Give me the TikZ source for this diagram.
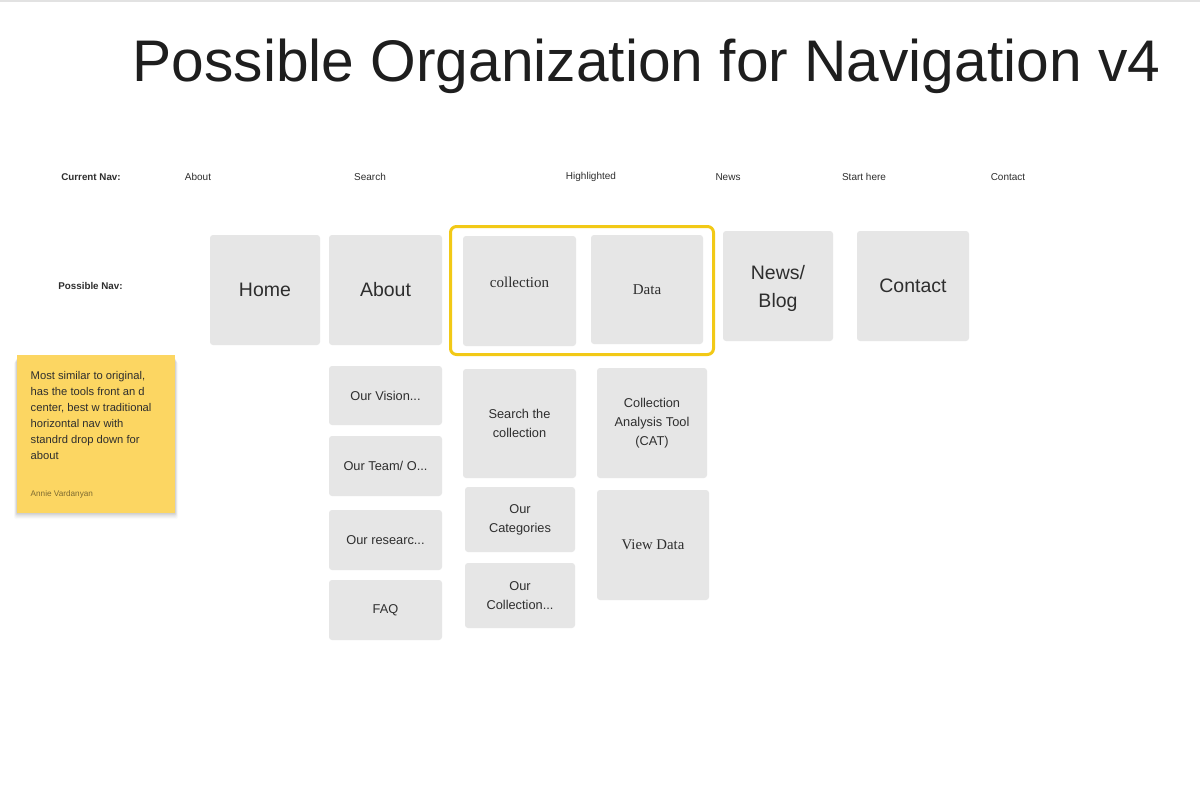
\documentclass[tikz,border=0pt]{standalone}
\usepackage{fontspec}
\setmainfont{Liberation Sans}
\newfontfamily\serifx{Liberation Serif}
\definecolor{boxgray}{HTML}{E6E6E6}
\definecolor{txt}{HTML}{2E2E2E}
\definecolor{titlecol}{HTML}{1E1E1E}
\definecolor{frameyellow}{HTML}{F2C916}
\definecolor{sticky}{HTML}{FCD662}
\definecolor{topline}{HTML}{E2E2E2}
\tikzset{
  box/.style={fill=boxgray, rounded corners=3pt, inner sep=0pt, align=center, text=txt},
  bigtxt/.style={font=\fontsize{19.5}{28}\selectfont},
  midtxt/.style={font=\fontsize{12.8}{19}\selectfont},
  sertxt/.style={font=\serifx\fontsize{15}{19}\selectfont},
  navlbl/.style={font=\fontsize{10}{12}\selectfont, text=txt, inner sep=0pt},
  navbold/.style={font=\bfseries\fontsize{9.8}{12}\selectfont, text=txt, inner sep=0pt},
}
\begin{document}
\begin{tikzpicture}[x=1pt,y=-1pt]
\useasboundingbox (0,0) rectangle (1200,800);
\fill[white] (0,0) rectangle (1200,800);
\draw[topline, line width=1.5pt] (0,0.8) -- (1200,0.8);

% title
\node[font=\fontsize{58.7}{70}\selectfont, text=titlecol, inner sep=0pt, anchor=base] (title) at (646.5,81.7) {Possible Organization for Navigation v4};

% current nav row
\node[navbold] (curnav) at (91,177) {Current Nav:};
\node[navlbl] (c1) at (198,177) {About};
\node[navlbl] (c2) at (370,177) {Search};
\node[navlbl] (c3) at (591,177) {Highlighted};
\node[navlbl] (c4) at (728,177) {News};
\node[navlbl] (c5) at (864,177) {Start here};
\node[navlbl] (c6) at (1008,177) {Contact};
\node[navbold] (posnav) at (90.5,285.5) {Possible Nav:};

% yellow frame
\draw[frameyellow, line width=3pt, rounded corners=6pt] (450.5,226.5) rectangle (713.5,354.5);

% top-level boxes
\node[box, bigtxt, minimum width=110, minimum height=110] (home) at (265,290) {Home};
\node[box, bigtxt, minimum width=113, minimum height=110] (about) at (385.5,290) {About};
\node[box, minimum width=113, minimum height=110] (coll) at (519.5,291) {};
\node[sertxt, text=txt, inner sep=0pt] (colltxt) at (519.5,282) {collection};
\node[box, sertxt, minimum width=112, minimum height=109] (data) at (647,289.5) {Data};
\node[box, minimum width=110, minimum height=110] (news) at (778,286) {};
\node[bigtxt, text=txt, align=center, inner sep=0pt] (newstxt) at (778,288) {News/\\Blog};
\node[box, bigtxt, minimum width=112, minimum height=110] (contact) at (913,286) {Contact};

% about sub-items
\node[box, midtxt, minimum width=113, minimum height=59] (vision) at (385.5,395.5) {Our Vision...};
\node[box, midtxt, minimum width=113, minimum height=60] (team) at (385.5,466) {Our Team/ O...};
\node[box, midtxt, minimum width=113, minimum height=60] (research) at (385.5,540) {Our researc...};
\node[box, midtxt, minimum width=113, minimum height=60] (faq) at (385.5,610) {FAQ};

% collection sub-items
\node[box, midtxt, minimum width=113, minimum height=109] (search) at (519.5,423.5) {Search the\\collection};
\node[box, midtxt, minimum width=110, minimum height=65] (cats) at (520,519.5) {Our\\Categories};
\node[box, midtxt, minimum width=110, minimum height=65] (ourcoll) at (520,595.5) {Our\\Collection...};

% data sub-items
\node[box, midtxt, minimum width=110, minimum height=110] (cat) at (652,423) {Collection\\Analysis Tool\\(CAT)};
\node[box, font=\serifx\fontsize{14.8}{17}\selectfont, minimum width=112, minimum height=110] (view) at (653,545) {View Data};

% sticky note with shadow
\foreach \i/\o in {1/0.05,2/0.05,3/0.04,4/0.03,5/0.02}{
  \fill[black, opacity=\o, rounded corners=2pt] (17-\i*0.6,357+\i) rectangle (175+\i*0.6,513+\i*1.2);
}
\node[fill=sticky, minimum width=158, minimum height=158, inner sep=0pt] (note) at (96,434) {};
\node[anchor=north west, inner sep=0pt, text=txt, align=left, font=\fontsize{11.2}{16}\selectfont] (notetxt) at (30.5,371.5) {Most similar to original,\\has the tools front an d\\center, best w traditional\\horizontal nav with\\standrd drop down for\\about};
\node[anchor=west, inner sep=0pt, text=black!50!sticky, font=\fontsize{8.2}{10}\selectfont] (author) at (30.5,494.5) {Annie Vardanyan};
\end{tikzpicture}
\end{document}
